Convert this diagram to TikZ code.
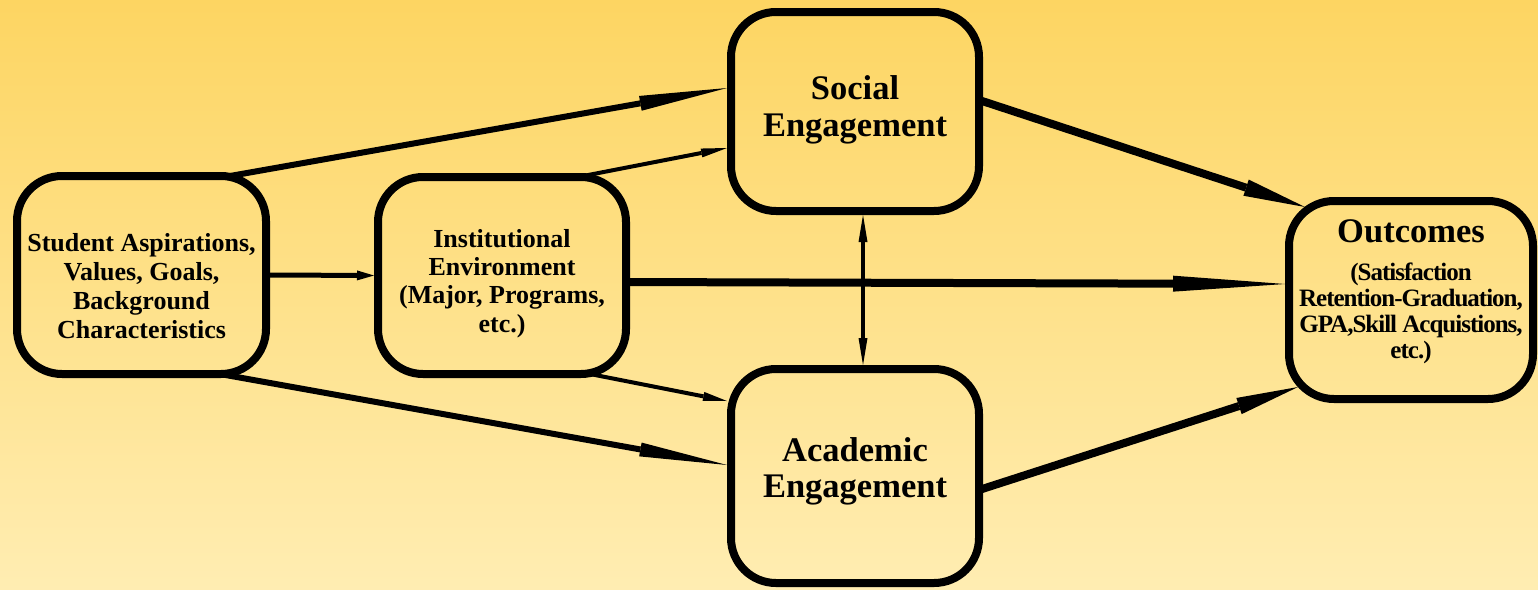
\documentclass[tikz,border=0pt]{standalone}
\usepackage{fontspec}
\setmainfont{Liberation Serif}
\newfontfamily\tightserif[LetterSpace=-4]{Liberation Serif}
\usetikzlibrary{arrows.meta,calc}
\definecolor{bgtop}{RGB}{253,213,98}
\definecolor{bgbot}{RGB}{255,237,178}
\begin{document}
\begin{tikzpicture}[x=1pt,y=-1pt,
  box/.style={draw=black,line width=8pt,rounded corners=45pt,inner sep=0pt},
  txt/.style={inner sep=0pt,align=center,text=black},
  arr/.style n args={3}{draw=black,line width=#1,-{Triangle[length=#2,width=#3,line width=0pt]}},
  darr/.style n args={3}{draw=black,line width=#1,{Triangle[length=#2,width=#3,line width=0pt]}-{Triangle[length=#2,width=#3,line width=0pt]}}]
\useasboundingbox (0,0) rectangle (1538,589);
\shade[top color=bgtop,bottom color=bgbot] (0,0) rectangle (1538,589);

% boxes
\node[box,minimum width=249pt,minimum height=198pt] (stud) at (141.5,275) {};
\node[box,minimum width=248pt,minimum height=197pt] (inst) at (502,275.5) {};
\node[box,minimum width=248pt,minimum height=199pt] (soc) at (855,111.5) {};
\node[box,minimum width=248pt,minimum height=214pt] (acad) at (855,476) {};
\node[box,minimum width=244pt,minimum height=198pt] (outc) at (1411,300) {};

% texts
\node[txt,font=\bfseries\fontsize{26}{29}\selectfont] (studtxt) at ([yshift=-11.5pt]stud.center)
  {Student Aspirations,\\Values, Goals,\\Background\\Characteristics};
\node[txt,font=\bfseries\fontsize{26}{28.3}\selectfont] (insttxt) at ([yshift=-8pt]inst.center)
  {Institutional\\Environment\\(Major, Programs,\\etc.)};
\node[txt,font=\bfseries\fontsize{34.5}{37}\selectfont] (soctxt) at ([yshift=1.5pt]soc.center)
  {Social\\Engagement};
\node[txt,font=\bfseries\fontsize{34.5}{36}\selectfont] (acadtxt) at ([yshift=5pt]acad.center)
  {Academic\\Engagement};
\node[txt,font=\tightserif\bfseries\fontsize{25}{26}\selectfont] (outtxt) at ([yshift=8pt]outc.center)
  {{\normalfont\bfseries\fontsize{34.5}{38}\selectfont Outcomes}\\[12pt](Satisfaction\\Retention-Graduation,\\GPA,Skill Acquistions,\\etc.)};

% connectors
\draw[arr={6pt}{88pt}{15pt}] ([xshift=88.5pt,yshift=-4pt]stud.north) -- ([yshift=23.5pt]soc.west);
\draw[arr={4pt}{26pt}{9pt}] ([xshift=76pt,yshift=-4pt]inst.north) -- ([yshift=-36.5pt]soc.west);
\draw[arr={5pt}{17pt}{10pt}] (stud.east) -- (inst.west);
\draw[arr={8pt}{112pt}{16pt}] ([xshift=-4pt,yshift=-6.5pt]inst.east) -- ([yshift=16pt]outc.west);
\draw[arr={6pt}{88pt}{14pt}] ([xshift=78.5pt,yshift=4pt]stud.south) -- ([yshift=11pt]acad.west);
\draw[arr={4pt}{24pt}{9pt}] ([xshift=88pt,yshift=4pt]inst.south) -- ([yshift=75pt]acad.west);
\draw[arr={8pt}{62pt}{17pt}] ([xshift=-4pt,yshift=11.5pt]soc.east) -- ([xshift=-106pt,yshift=-10pt]outc.north);
\draw[arr={8pt}{62pt}{17pt}] ([xshift=-4pt,yshift=-14pt]acad.east) -- ([xshift=-113pt,yshift=16pt]outc.south);
\draw[darr={4pt}{27pt}{9pt}] ([xshift=8pt]soc.south) -- ([xshift=8pt]acad.north);
\end{tikzpicture}
\end{document}
